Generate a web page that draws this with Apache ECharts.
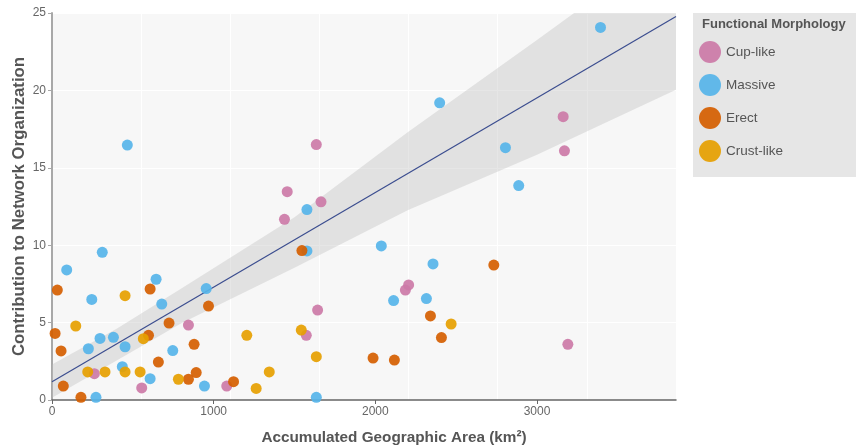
<!DOCTYPE html>
<html>
<head>
<meta charset="utf-8">
<script src="https://cdn.jsdelivr.net/npm/echarts@6/dist/echarts.min.js"></script>
<style>
  html, body { margin: 0; padding: 0; background: #fff; }
  #chart { width: 856px; height: 447px; }
</style>
</head>
<body>
<div id="chart"></div>
<script>
  // points: [area km², contribution]
  const cupLike = [
    [262, 1.70], [555, 0.78], [844, 4.84], [1081, 0.90], [1455, 13.46], [1438, 11.67],
    [1664, 12.80], [1635, 16.50], [1643, 5.81], [1573, 4.18], [2186, 7.10], [2206, 7.43],
    [3162, 18.30], [3170, 16.10], [3191, 3.60]
  ]
  const massive = [
    [91, 8.40], [311, 9.54], [466, 16.47], [246, 6.50], [644, 7.80], [679, 6.20],
    [297, 3.98], [380, 4.05], [452, 3.44], [225, 3.31], [435, 2.15], [607, 1.38],
    [272, 0.17], [747, 3.19], [954, 7.20], [943, 0.90], [1577, 12.30], [1577, 9.63],
    [2037, 9.95], [2113, 6.42], [1635, 0.17], [2398, 19.20], [2805, 16.30], [2887, 13.85],
    [2357, 8.79], [2316, 6.55], [3393, 24.07]
  ]
  const erect = [
    [33, 7.10], [607, 7.17], [724, 4.97], [19, 4.30], [597, 4.18], [56, 3.17],
    [658, 2.45], [70, 0.90], [179, 0.17], [968, 6.07], [879, 3.60], [844, 1.34],
    [892, 1.77], [1123, 1.18], [1546, 9.65], [1986, 2.71], [2118, 2.58], [2733, 8.72],
    [2341, 5.43], [2409, 4.03]
  ]
  const crustLike = [
    [452, 6.74], [147, 4.78], [565, 3.96], [221, 1.81], [328, 1.81], [452, 1.81],
    [545, 1.81], [782, 1.34], [1205, 4.18], [1542, 4.52], [1344, 1.81], [1263, 0.75],
    [1635, 2.80], [2469, 4.91]
  ]

  // fitted line and its confidence band
  const fitX = [0, 3860]
  const fitY = [1.18, 24.77]
  const bandX = [0, 400, 800, 1500, 2200, 3000, 3860]
  const bandLow = [0.15, 2.55, 4.95, 8.55, 12.25, 15.85, 20.05]
  const bandHigh = [2.3, 4.6, 7.2, 11.8, 17.3, 23.25, 29.8]

  const xTicks = [0, 1000, 2000, 3000]
  const yTicks = [0, 5, 10, 15, 20, 25]

  const groups = ['Cup-like', 'Massive', 'Erect', 'Crust-like']
  const groupData = [cupLike, massive, erect, crustLike]
  const colors = ['#cc79a7', '#56b4e9', '#d55e00', '#e69f00']

  const font = '"Liberation Sans", Arial, sans-serif'

  const chart = echarts.init(document.getElementById('chart'), null, { renderer: 'canvas' })

  const scatterSeries = groups.map((name, i) => ({
    name,
    type: 'scatter',
    data: groupData[i],
    symbol: 'circle',
    symbolSize: 11,
    z: 5,
    itemStyle: { color: colors[i], opacity: 0.92 }
  }))

  chart.setOption({
    animation: false,
    textStyle: { fontFamily: font },
    title: {
      text: 'Functional Morphology',
      left: 702,
      top: 18,
      padding: 0,
      textStyle: { fontSize: 13, fontWeight: 'bold', color: '#555', fontFamily: font }
    },
    legend: {
      orient: 'vertical',
      left: 693,
      top: 13,
      data: groups,
      icon: 'circle',
      itemWidth: 22,
      itemHeight: 22,
      itemGap: 11,
      backgroundColor: '#e6e6e6',
      padding: [28, 80, 15, 6],
      textStyle: { fontSize: 13.5, color: '#555', fontFamily: font }
    },
    grid: {
      left: 52,
      top: 13,
      right: 180,
      bottom: 47,
      outerBoundsMode: 'none',
      containLabel: false,
      show: true,
      backgroundColor: '#f7f7f7',
      borderWidth: 0
    },
    xAxis: [{
      type: 'value',
      min: 0,
      max: 3860,
      interval: 1000,
      name: 'Accumulated Geographic Area (km²)',
      nameLocation: 'middle',
      nameGap: 30,
      nameMoveOverlap: false,
      nameTextStyle: {
        fontSize: 15.3, fontWeight: 'bold', color: '#555', fontFamily: font,
        padding: [0, 0, 0, 60]
      },
      axisLine: { lineStyle: { color: '#666', width: 1.5 } },
      axisTick: { show: true, length: 4, lineStyle: { color: '#666' } },
      axisLabel: {
        fontSize: 12, color: '#666', margin: 6, showMaxLabel: false,
        formatter: v => (xTicks.indexOf(v) >= 0 ? String(v) : '')
      },
      splitLine: { show: false }
    }, {
      // faint vertical grid of the original, not tied to the tick labels
      type: 'value',
      min: 0,
      max: 7,
      interval: 1,
      position: 'bottom',
      axisLine: { show: false },
      axisTick: { show: false },
      axisLabel: { show: false },
      splitLine: { show: true, lineStyle: { color: '#ffffff', width: 1 } }
    }],
    yAxis: {
      type: 'value',
      min: 0,
      max: 25,
      interval: 5,
      name: 'Contribution to Network Organization',
      nameLocation: 'middle',
      nameGap: 24,
      nameMoveOverlap: false,
      nameTextStyle: { fontSize: 16.8, fontWeight: 'bold', color: '#555', fontFamily: font },
      axisLine: { show: true, lineStyle: { color: '#a8a8a8', width: 2 } },
      axisTick: { show: true, length: 4, lineStyle: { color: '#a8a8a8' } },
      axisLabel: {
        fontSize: 12, color: '#666', margin: 6,
        formatter: v => (yTicks.indexOf(v) >= 0 ? String(v) : '')
      },
      splitLine: { show: true, lineStyle: { color: '#ffffff', width: 1 } }
    },
    series: [{
      type: 'custom',
      name: 'band',
      xAxisIndex: 0,
      clip: true,
      silent: true,
      z: 1,
      data: [0],
      renderItem: (params, api) => {
        const pts = []
        bandX.forEach((x, i) => pts.push(api.coord([x, bandHigh[i]])))
        for (let i = bandX.length - 1; i >= 0; i--) pts.push(api.coord([bandX[i], bandLow[i]]))
        const cs = params.coordSys
        return {
          type: 'polygon',
          shape: { points: pts },
          style: { fill: 'rgba(190,190,190,0.38)' },
          clipPath: { type: 'rect', shape: { x: cs.x, y: cs.y, width: cs.width, height: cs.height } }
        }
      }
    }, {
      type: 'line',
      name: 'fit',
      data: fitX.map((x, i) => [x, fitY[i]]),
      symbol: 'none',
      silent: true,
      z: 2,
      lineStyle: { color: '#3b4d8f', width: 1.2 }
    }].concat(scatterSeries)
  })
</script>
</body>
</html>
